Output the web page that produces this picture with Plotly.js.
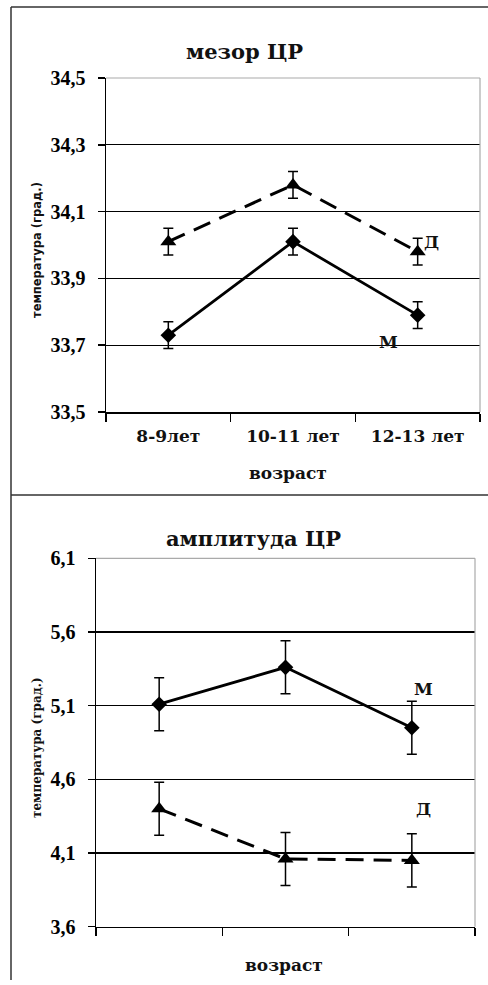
<!DOCTYPE html>
<html>
<head>
<meta charset="utf-8">
<script src="https://cdn.plot.ly/plotly-3.0.1.min.js"></script>
<style>
  html, body { margin: 0; padding: 0; background: #fff; }
  #chart { width: 488px; height: 985px; }
</style>
</head>
<body>
<div id="chart"></div>
<script>
// Age groups on the x axis
const ageGroups = ['8-9лет', '10-11 лет', '12-13 лет'];

// Mesor of the circadian rhythm (°C), boys (М) and girls (Д)
const mesorBoys = [33.73, 34.01, 33.79];
const mesorBoysErr = [0.04, 0.04, 0.04];
const mesorGirls = [34.01, 34.18, 33.98];
const mesorGirlsErr = [0.04, 0.04, 0.04];

// Amplitude of the circadian rhythm (°C)
const ampBoys = [5.11, 5.36, 4.95];
const ampBoysErr = [0.18, 0.18, 0.18];
const ampGirls = [4.40, 4.06, 4.05];
const ampGirlsErr = [0.18, 0.18, 0.18];

// Tick values
const mesorTicks = [33.5, 33.7, 33.9, 34.1, 34.3, 34.5];
const ampTicks = [3.6, 4.1, 4.6, 5.1, 5.6, 6.1];

const serifNum = { family: 'Liberation Serif, Times New Roman, serif', size: 20, color: '#000', weight: 'bold' };
const serifTxt = { family: 'DejaVu Serif, serif', size: 17, color: '#111', weight: 'bold' };
const titleFont = { family: 'DejaVu Serif, serif', size: 21, color: '#111', weight: 'bold' };

function boysTrace(y, err, xa, ya) {
  return {
    x: ageGroups, y: y, xaxis: xa, yaxis: ya, type: 'scatter', mode: 'lines+markers',
    line: { color: '#000', width: 2.8 },
    marker: { symbol: 'diamond', size: 12, color: '#000' },
    error_y: { type: 'data', array: err, visible: true, color: '#000', thickness: 1.5, width: 5 },
    showlegend: false, hoverinfo: 'skip'
  };
}
function girlsTrace(y, err, xa, ya) {
  return {
    x: ageGroups, y: y, xaxis: xa, yaxis: ya, type: 'scatter', mode: 'lines+markers',
    line: { color: '#000', width: 3, dash: '18px,10px' },
    marker: { symbol: 'triangle-up', size: 14, color: '#000' },
    error_y: { type: 'data', array: err, visible: true, color: '#000', thickness: 1.5, width: 5 },
    showlegend: false, hoverinfo: 'skip'
  };
}

const data = [
  boysTrace(mesorBoys, mesorBoysErr, 'x', 'y'),
  girlsTrace(mesorGirls, mesorGirlsErr, 'x', 'y'),
  boysTrace(ampBoys, ampBoysErr, 'x2', 'y2'),
  girlsTrace(ampGirls, ampGirlsErr, 'x2', 'y2')
];

const W = 488, H = 985;
const px = v => v / W;
const py = v => 1 - v / H;

function xAxis(domain, showLabels) {
  return {
    domain: domain, type: 'category', range: [-0.5, 2.5],
    tickson: 'boundaries', ticks: 'outside', ticklen: 8, tickwidth: 1.5, tickcolor: '#000',
    showline: true, linecolor: '#000', linewidth: 1.5,
    showgrid: false, zeroline: false,
    showticklabels: showLabels, tickfont: serifTxt, ticklabelstandoff: 8,
    fixedrange: true
  };
}
function yAxis(domain, ticks) {
  return {
    domain: domain, range: [ticks[0], ticks[ticks.length - 1]],
    tickvals: ticks, tickformat: '.1f',
    ticks: 'outside', ticklen: 7, tickwidth: 1.5, tickcolor: '#000',
    showline: true, linecolor: '#000', linewidth: 1.5,
    showgrid: true, gridcolor: '#000', gridwidth: 1.3,
    zeroline: false, tickfont: serifNum, ticklabelstandoff: 8,
    fixedrange: true
  };
}

const frame = { color: '#333', width: 1.5 };
const plotBorder = { color: '#aaa', width: 1.2 };

function note(text, x, y, font, extra) {
  return Object.assign({ text: text, xref: 'paper', yref: 'paper', x: px(x), y: py(y),
    xanchor: 'center', yanchor: 'middle', showarrow: false, font: font }, extra || {});
}
function seriesLabel(text, xa, ya, x, y) {
  return { text: text, xref: xa, yref: ya, x: x, y: y, xanchor: 'center', yanchor: 'middle',
    showarrow: false, font: serifTxt };
}

const layout = {
  width: W, height: H,
  margin: { l: 0, r: 0, t: 0, b: 0 },
  paper_bgcolor: '#fff', plot_bgcolor: '#fff',
  separators: ', ',
  showlegend: false,
  xaxis: xAxis([px(106), px(480)], true),
  yaxis: yAxis([py(412), py(78)], mesorTicks),
  xaxis2: Object.assign(xAxis([px(96), px(475)], false), { anchor: 'y2' }),
  yaxis2: Object.assign(yAxis([py(926.7), py(558.3)], ampTicks), { anchor: 'x2' }),
  shapes: [
    // outer frame
    { type: 'line', xref: 'paper', yref: 'paper', x0: px(11), x1: 1, y0: py(7), y1: py(7), line: frame },
    { type: 'line', xref: 'paper', yref: 'paper', x0: px(11), x1: px(11), y0: py(7), y1: py(980), line: frame },
    { type: 'line', xref: 'paper', yref: 'paper', x0: px(11), x1: 1, y0: py(495), y1: py(495), line: frame },
    // light border on top and right of each plot area
    { type: 'line', xref: 'x domain', yref: 'y domain', x0: 0, x1: 1, y0: 1, y1: 1, line: plotBorder, layer: 'above' },
    { type: 'line', xref: 'x domain', yref: 'y domain', x0: 1, x1: 1, y0: 0, y1: 1, line: plotBorder, layer: 'above' },
    { type: 'line', xref: 'x2 domain', yref: 'y2 domain', x0: 0, x1: 1, y0: 1, y1: 1, line: plotBorder, layer: 'above' },
    { type: 'line', xref: 'x2 domain', yref: 'y2 domain', x0: 1, x1: 1, y0: 0, y1: 1, line: plotBorder, layer: 'above' }
  ],
  annotations: [
    // chart titles
    note('мезор ЦР', 244, 52, titleFont),
    note('амплитуда ЦР', 253, 538, titleFont),
    // axis titles
    note('возраст', 288, 473, serifTxt),
    note('возраст', 284, 965, serifTxt),
    note('температура (град.)', 37, 250, { family: 'DejaVu Sans, sans-serif', size: 11.5, color: '#111', weight: 'bold' }, { textangle: -90 }),
    note('температура (град.)', 37, 748, { family: 'DejaVu Serif, serif', size: 12, color: '#111', weight: 'bold' }, { textangle: -90 }),
    // series labels
    seriesLabel('Д', 'x', 'y', 2.11, 34.01),
    seriesLabel('М', 'x', 'y', 1.77, 33.71),
    seriesLabel('М', 'x2', 'y2', 2.09, 5.21),
    seriesLabel('Д', 'x2', 'y2', 2.09, 4.40)
  ]
};

Plotly.newPlot('chart', data, layout, { staticPlot: true, displayModeBar: false });
</script>
</body>
</html>
